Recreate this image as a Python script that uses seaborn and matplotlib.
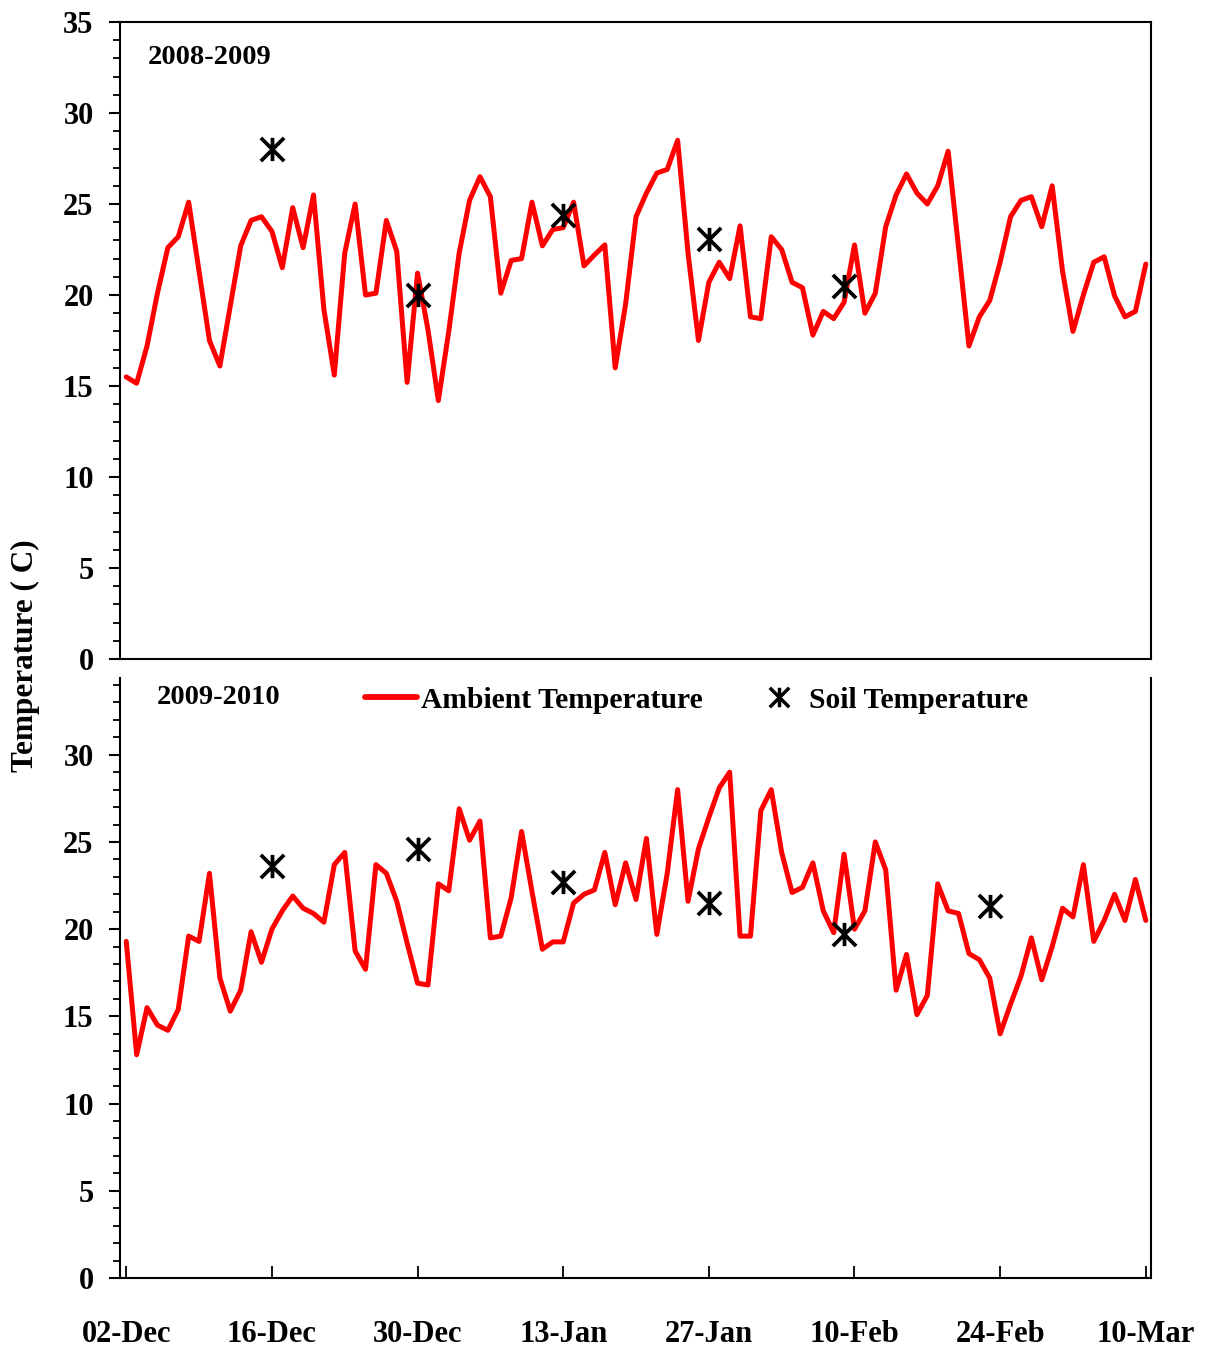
import numpy as np
import pandas as pd
import matplotlib
matplotlib.use("Agg")
import matplotlib.pyplot as plt
from matplotlib.path import Path
from matplotlib.lines import Line2D
from matplotlib.ticker import MultipleLocator
import seaborn as sns

# ---------------- data ----------------
tick_labels = ["02-Dec", "16-Dec", "30-Dec", "13-Jan", "27-Jan", "10-Feb", "24-Feb", "10-Mar"]
tick_days = [0, 14, 28, 42, 56, 70, 84, 98]

ambient_0809 = [15.5, 15.15, 17.2, 20.1, 22.6, 23.2, 25.1, 21.3, 17.5, 16.1,
                19.4, 22.7, 24.1, 24.3, 23.5, 21.5, 24.8, 22.6, 25.5, 19.2,
                15.6, 22.3, 25.0, 20.0, 20.1, 24.1, 22.4, 15.2, 21.2, 18.1,
                14.2, 18.0, 22.3, 25.2, 26.5, 25.4, 20.1, 21.9, 22.0, 25.1,
                22.7, 23.6, 23.7, 25.1, 21.6, 22.2, 22.75, 16.0, 19.5, 24.3,
                25.6, 26.7, 26.9, 28.5, 22.3, 17.5, 20.7, 21.8, 20.9, 23.8,
                18.8, 18.7, 23.2, 22.5, 20.7, 20.4, 17.8, 19.1, 18.7, 19.6,
                22.75, 19.0, 20.1, 23.75, 25.5, 26.65, 25.6, 25.0, 26.0, 27.9,
                22.6, 17.2, 18.8, 19.7, 21.8, 24.3, 25.2, 25.4, 23.75, 26.0,
                21.3, 18.0, 20.0, 21.8, 22.1, 19.95, 18.8, 19.1, 21.7]

ambient_0910 = [19.3, 12.8, 15.5, 14.5, 14.2, 15.4, 19.6, 19.3, 23.2, 17.2,
                15.3, 16.5, 19.85, 18.1, 20.0, 21.05, 21.9, 21.2, 20.9, 20.4,
                23.7, 24.4, 18.75, 17.7, 23.7, 23.2, 21.6, 19.2, 16.9, 16.8,
                22.6, 22.2, 26.9, 25.1, 26.2, 19.5, 19.6, 21.8, 25.6, 22.15,
                18.85, 19.27, 19.27, 21.5, 22.0, 22.25, 24.4, 21.4, 23.8, 21.7,
                25.2, 19.7, 23.2, 28.0, 21.6, 24.6, 26.4, 28.1, 29.0, 19.6,
                19.6, 26.8, 28.0, 24.4, 22.1, 22.4, 23.8, 21.05, 19.8, 24.3,
                20.0, 21.05, 25.0, 23.4, 16.5, 18.55, 15.1, 16.2, 22.6, 21.05,
                20.9, 18.6, 18.25, 17.2, 14.0, 15.7, 17.3, 19.5, 17.1, 19.0,
                21.2, 20.7, 23.7, 19.3, 20.5, 22.0, 20.5, 22.85, 20.5]

soil_days_0809 = [14, 28, 42, 56, 69]
soil_0809 = [28.0, 20.0, 24.4, 23.1, 20.5]

soil_days_0910 = [14, 28, 42, 56, 69, 83]
soil_0910 = [23.6, 24.6, 22.7, 21.5, 19.7, 21.3]

season_labels = ["2008-2009", "2009-2010"]
legend_labels = ["Ambient Temperature", "Soil Temperature"]

# ---------------- style ----------------
sns.set_theme(style="white")
plt.rcParams['font.family'] = ['Liberation Serif', 'DejaVu Serif']
plt.rcParams['font.weight'] = 'bold'
plt.rcParams['axes.linewidth'] = 1.5
plt.rcParams['text.color'] = 'black'
plt.rcParams['xtick.color'] = 'black'
plt.rcParams['ytick.color'] = 'black'
plt.rcParams['axes.labelcolor'] = 'black'

W, H = 1210, 1347
fig = plt.figure(figsize=(W / 100, H / 100), dpi=100)
ax1 = fig.add_axes([120 / W, 1 - 659 / H, 1031 / W, 637 / H])
ax2 = fig.add_axes([120 / W, 1 - 1278 / H, 1031 / W, 600 / H])

star = Path([(0, -1), (0, 1), (-1, -1), (1, 1), (-1, 1), (1, -1)],
            [Path.MOVETO, Path.LINETO] * 3)

panels = [
    (ax1, ambient_0809, soil_days_0809, soil_0809, 35, np.arange(0, 36, 5),
     season_labels[0], (0.027, 0.945)),
    (ax2, ambient_0910, soil_days_0910, soil_0910, 34.4, np.arange(0, 31, 5),
     season_labels[1], (0.036, 0.968)),
]

for ax, amb, sdays, soil, ytop, yt, lab, lpos in panels:
    df = pd.DataFrame({"day": np.arange(len(amb)), "temp": amb})
    sns.lineplot(data=df, x="day", y="temp", ax=ax, color="#ff0000", lw=3.6,
                 legend=False)
    sdf = pd.DataFrame({"day": sdays, "temp": soil})
    sns.scatterplot(data=sdf, x="day", y="temp", ax=ax, marker=star, s=280,
                    color="black", edgecolor="black", linewidth=2.7,
                    legend=False, zorder=4)
    ax.set_xlim(-0.6, 98.5)
    ax.set_ylim(0, ytop)
    ax.set_yticks(yt)
    ax.yaxis.set_minor_locator(MultipleLocator(1))
    ax.tick_params(axis="y", which="major", direction="out", length=8, width=1.5,
                   labelsize=22, pad=11, colors="black", left=True)
    ax.tick_params(axis="y", which="minor", direction="out", length=5, width=1.3,
                   left=True)
    ax.set_xlabel("")
    ax.set_ylabel("")
    for sp in ax.spines.values():
        sp.set_color("black")
        sp.set_linewidth(1.5)
    ax.text(lpos[0], lpos[1], lab, transform=ax.transAxes, fontsize=20.5,
            fontweight="bold", ha="left", va="center", color="black")
    for t in ax.get_yticklabels():
        t.set_fontweight("bold")

ax1.set_xticks([])
ax2.spines["top"].set_visible(False)
ax2.set_xticks(tick_days)
ax2.set_xticklabels(tick_labels)
ax2.tick_params(axis="x", which="major", direction="in", length=9, width=1.3,
                labelsize=22, pad=30, colors="black", bottom=True)
for t in ax2.get_xticklabels():
    t.set_fontweight("bold")

fig.text(0.021, 1 - 656 / H, "Temperature ( C)", rotation=90, ha="center",
         va="center", fontsize=22.5, fontweight="bold", color="black")

handles = [
    Line2D([], [], color="#ff0000", lw=4.2),
    Line2D([], [], marker=star, linestyle="none", color="black",
           markersize=14, markeredgewidth=2.5),
]
leg = fig.legend(handles, legend_labels, loc="center left",
                 bbox_to_anchor=(365 / W, 1 - 700 / H), ncol=2, frameon=False,
                 prop={"weight": "bold", "size": 21.3},
                 handlelength=1.75, handletextpad=0.15, columnspacing=1.7,
                 borderpad=0, borderaxespad=0)
for t in leg.get_texts():
    t.set_color("black")

fig.savefig("out.png", dpi=100)
